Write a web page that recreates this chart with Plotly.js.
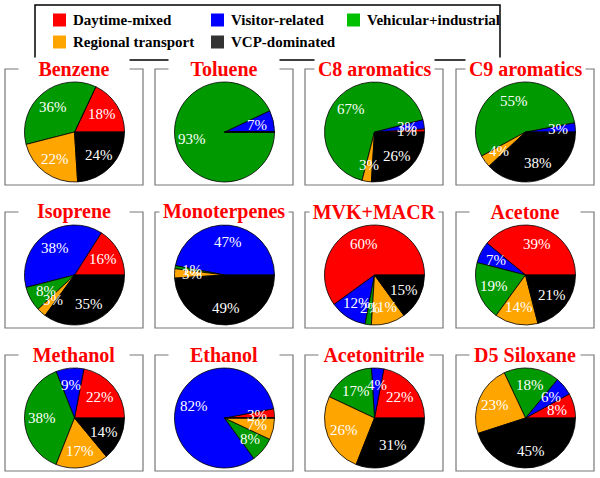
<!DOCTYPE html>
<html>
<head>
<meta charset="utf-8">
<script src="https://cdn.plot.ly/plotly-3.0.1.min.js"></script>
<style>
  body { margin: 0; background: #fff; }
  #chart { width: 600px; height: 478px; }
</style>
</head>
<body>
<div id="chart"></div>
<script>
// source factors, in slice order (counterclockwise from 3 o'clock)
const sources = ['Daytime-mixed', 'Visitor-related', 'Vehicular+industrial', 'Regional transport', 'VCP-dominated'];

const species = ['Benzene', 'Toluene', 'C8 aromatics', 'C9 aromatics',
                 'Isoprene', 'Monoterpenes', 'MVK+MACR', 'Acetone',
                 'Methanol', 'Ethanol', 'Acetonitrile', 'D5 Siloxane'];

// percent contribution of each source
const benzene      = [18,  0, 36, 22, 24];
const toluene      = [ 0,  7, 93,  0,  0];
const c8Aromatics  = [ 1,  3, 67,  3, 26];
const c9Aromatics  = [ 0,  3, 55,  4, 38];
const isoprene     = [16, 38,  8,  3, 35];
const monoterpenes = [ 0, 47,  1,  3, 49];
const mvkMacr      = [60, 12,  2, 11, 15];
const acetone      = [39,  7, 19, 14, 21];
const methanol     = [22,  9, 38, 17, 14];
const ethanol      = [ 3, 82,  8,  7,  0];
const acetonitrile = [22,  4, 17, 26, 31];
const d5Siloxane   = [ 8,  6, 18, 23, 45];

const shares = [benzene, toluene, c8Aromatics, c9Aromatics,
                isoprene, monoterpenes, mvkMacr, acetone,
                methanol, ethanol, acetonitrile, d5Siloxane];

const sourceColors = ['#ff0000', '#0000ff', '#009a00', '#ffa500', '#000000'];
const legendSwatch = ['#ff0000', '#0000ff', '#00c000', '#ffa500', '#333333'];

const serif = '"Liberation Serif", "Times New Roman", Times, "DejaVu Serif", serif';

// page geometry (px)
const W = 600, H = 478;
const colLeft = [5, 155, 305, 456];
const rowTop = [69, 212, 355];
const boxW = 138, boxH = 116;
const R = 50;
const px = x => x / W;
const py = y => 1 - y / H;

const canvas = document.createElement('canvas');
const ctx = canvas.getContext('2d');
ctx.font = 'bold 20px ' + serif;

var traces = [];
var shapes = [];
var annotations = [];
var boxLine = {color: '#777', width: 1.2};

species.forEach(function(name, i) {
  var left = colLeft[i % 4];
  var top = rowTop[Math.floor(i / 4)];
  var cx = left + 69.5;
  var cy = top + 63;
  var vals = shares[i];
  var total = vals.reduce((a, b) => a + b, 0);

  // plotly ends the first ccw slice at 'rotation', so shift by its size
  traces.push({
    type: 'pie',
    labels: sources,
    values: vals,
    sort: false,
    direction: 'counterclockwise',
    rotation: 90 - vals[0] / total * 360,
    textinfo: 'none',
    hoverinfo: 'label+percent',
    showlegend: false,
    marker: {colors: sourceColors, line: {color: '#000', width: 0.8}},
    domain: {x: [px(cx - R), px(cx + R)], y: [py(cy + R), py(cy - R)]}
  });

  // percent labels at mid-angle of each slice
  var acc = 0;
  vals.forEach(function(v) {
    if (v > 0) {
      var mid = (acc + v / 2) / total * 2 * Math.PI;
      annotations.push({
        xref: 'paper', yref: 'paper',
        x: px(cx + 0.66 * R * Math.cos(mid)),
        y: py(cy - 0.66 * R * Math.sin(mid)),
        text: v + '%', showarrow: false,
        xanchor: 'center', yanchor: 'middle',
        font: {family: serif, size: 15, color: '#fff'}
      });
    }
    acc += v;
  });

  // frame
  shapes.push({type: 'rect', xref: 'paper', yref: 'paper',
    x0: px(left), x1: px(left + boxW), y0: py(top + boxH), y1: py(top),
    line: boxLine, layer: 'below'});

  // title sits on the top edge, white box hides the line behind it
  var tw = ctx.measureText(name).width;
  annotations.push({
    xref: 'paper', yref: 'paper',
    x: px(left + boxW / 2), y: py(top),
    text: name, showarrow: false,
    xanchor: 'center', yanchor: 'middle',
    width: Math.max(110, tw + 6),
    bgcolor: '#fff', borderpad: 0,
    font: {family: serif, size: 20, color: '#ff0000', weight: 'bold'}
  });
});

// legend box: 3 entries on first row, 2 on second, columns like the original
shapes.push({type: 'rect', xref: 'paper', yref: 'paper',
  x0: px(35), x1: px(500), y0: py(60), y1: py(5),
  line: {color: '#000', width: 1.5}, fillcolor: '#fff', layer: 'below'});

const legCol = [53, 211, 347];
const legRow = [20, 42];
sources.forEach(function(src, k) {
  var x = legCol[k % 3];
  var y = legRow[Math.floor(k / 3)];
  shapes.push({type: 'rect', xref: 'paper', yref: 'paper',
    x0: px(x), x1: px(x + 13), y0: py(y + 6.5), y1: py(y - 6.5),
    line: {width: 0}, fillcolor: legendSwatch[k], layer: 'above'});
  annotations.push({
    xref: 'paper', yref: 'paper',
    x: px(x + 18), y: py(y),
    text: src, showarrow: false,
    xanchor: 'left', yanchor: 'middle',
    font: {family: serif, size: 15, color: '#000', weight: 'bold'}
  });
});

var layout = {
  width: W, height: H,
  margin: {l: 0, r: 0, t: 0, b: 0},
  paper_bgcolor: '#fff',
  showlegend: false,
  shapes: shapes,
  annotations: annotations
};

Plotly.newPlot('chart', traces, layout, {displayModeBar: false});
</script>
</body>
</html>
